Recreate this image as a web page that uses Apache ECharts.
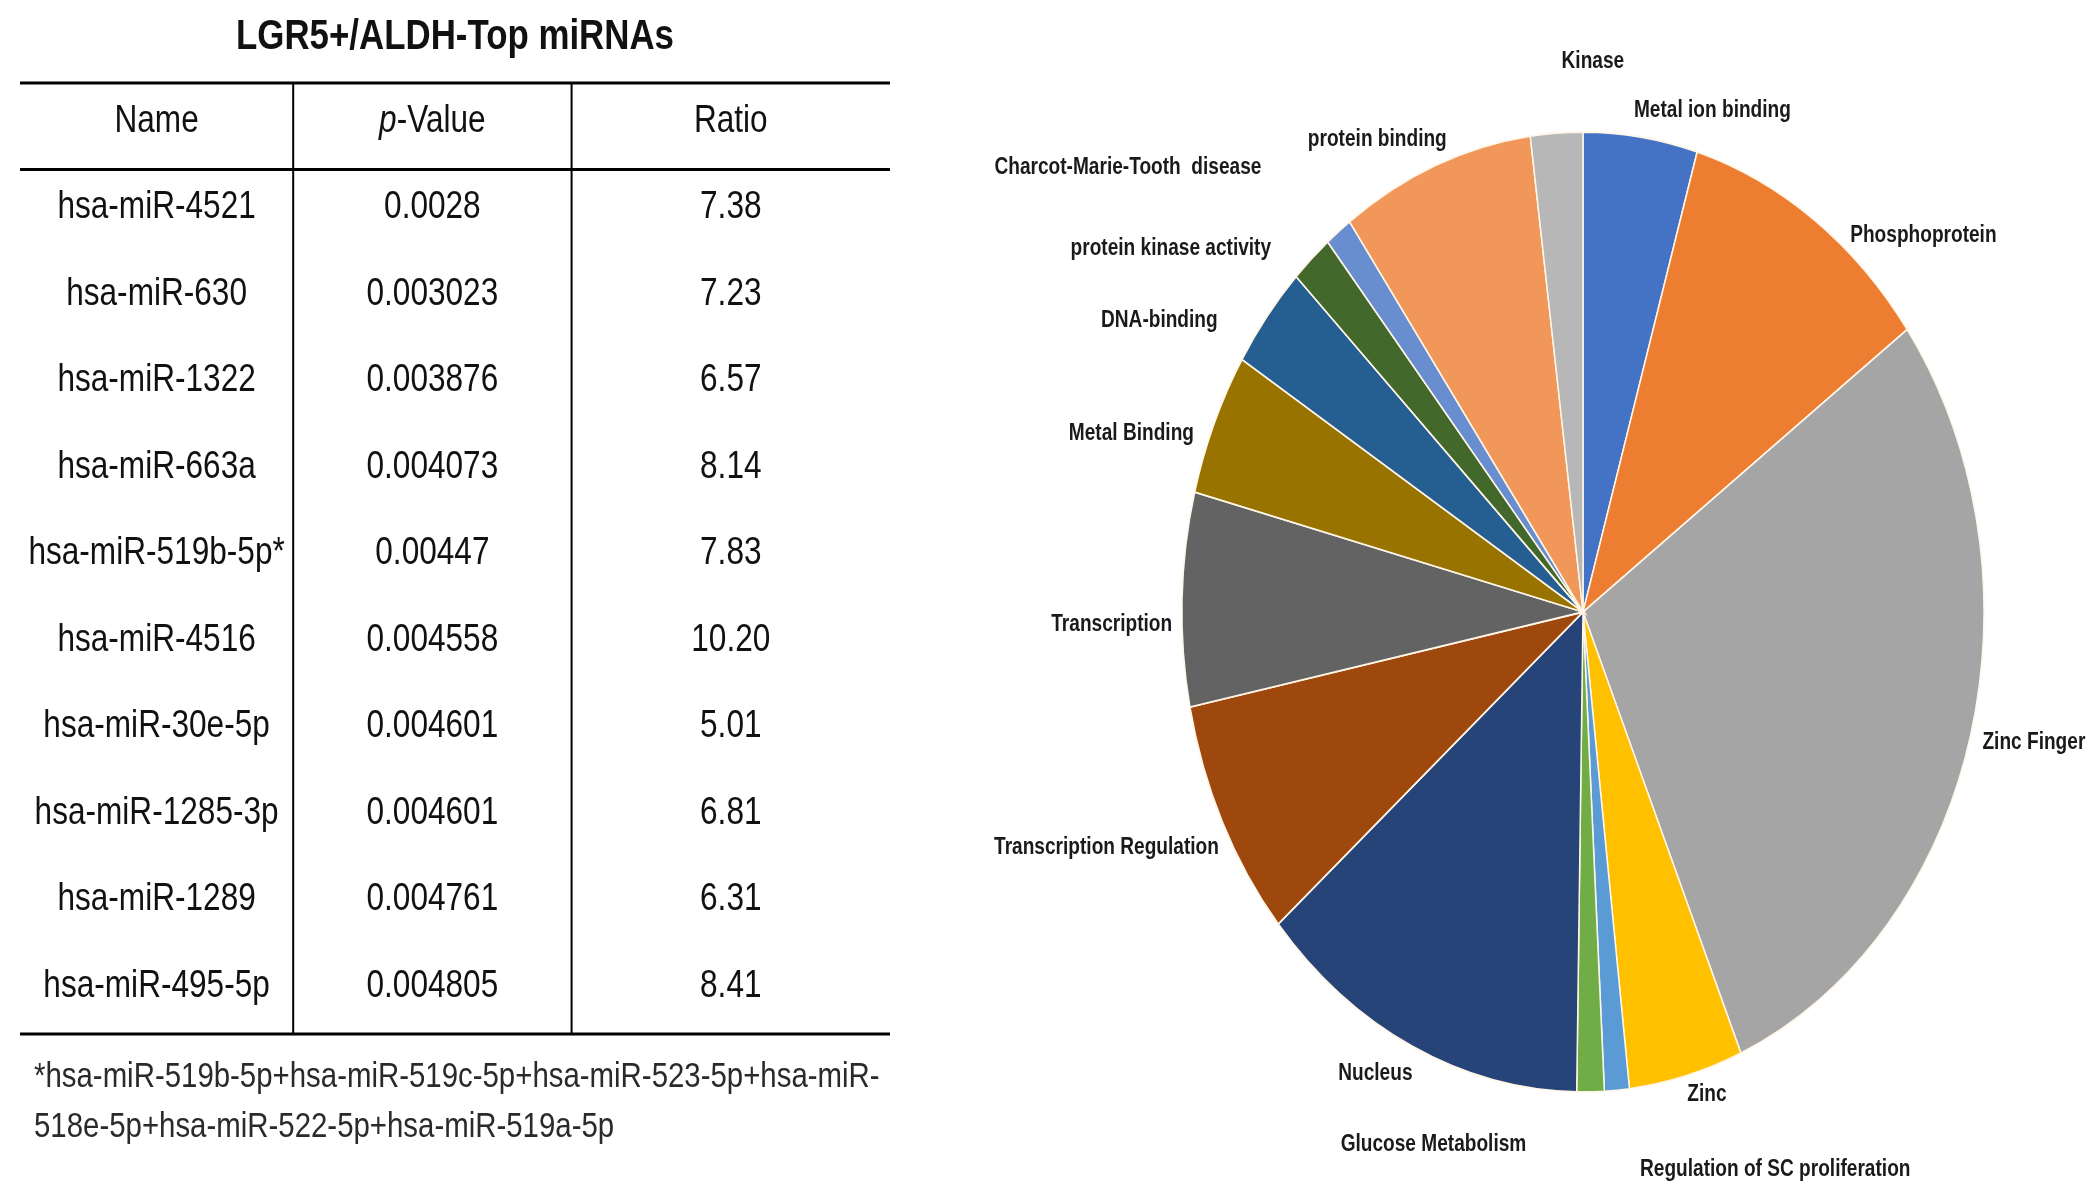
<!DOCTYPE html>
<html>
<head>
<meta charset="utf-8">
<script src="https://cdn.jsdelivr.net/npm/echarts@6/dist/echarts.min.js"></script>
<style>
html,body{margin:0;padding:0;background:#ffffff;}
#main{width:2100px;height:1200px;}
</style>
</head>
<body>
<div id="main"></div>
<script>
// ---------------- DATA ----------------
const tableTitle = 'LGR5+/ALDH-Top miRNAs';
const columnHeaders = ['Name', 'p-Value', 'Ratio'];
const mirnaNames = ['hsa-miR-4521', 'hsa-miR-630', 'hsa-miR-1322', 'hsa-miR-663a', 'hsa-miR-519b-5p*',
  'hsa-miR-4516', 'hsa-miR-30e-5p', 'hsa-miR-1285-3p', 'hsa-miR-1289', 'hsa-miR-495-5p'];
const pValues = [0.0028, 0.003023, 0.003876, 0.004073, 0.00447, 0.004558, 0.004601, 0.004601, 0.004761, 0.004805];
const ratios = [7.38, 7.23, 6.57, 8.14, 7.83, 10.20, 5.01, 6.81, 6.31, 8.41];
const footnoteLines = ['*hsa-miR-519b-5p+hsa-miR-519c-5p+hsa-miR-523-5p+hsa-miR-',
  '518e-5p+hsa-miR-522-5p+hsa-miR-519a-5p'];

const pieCategories = ['Metal ion binding', 'Phosphoprotein', 'Zinc Finger', 'Zinc',
  'Regulation of SC proliferation', 'Glucose Metabolism', 'Nucleus', 'Transcription Regulation',
  'Transcription', 'Metal Binding', 'DNA-binding', 'protein kinase activity',
  'Charcot-Marie-Tooth  disease', 'protein binding', 'Kinase'];
const pieValues = [4.6, 10.4, 28.6, 4.6, 1.0, 1.1, 13.5, 8.1, 7.2, 4.8, 3.5, 1.7, 1.1, 7.8, 2.1];

// ---------------- LAYOUT / STYLE ----------------
const FONT = '"Liberation Sans", Arial, sans-serif';
const PALETTE = ['#4472C4', '#ED7D31', '#A5A5A5', '#FFC000', '#5B9BD5', '#70AD47', '#264478', '#9E480E',
  '#636363', '#997300', '#255E91', '#43682B', '#698ED0', '#F1975A', '#B7B7B7'];
const TABLE = { left: 20, top: 83, width: 870, height: 951, colEdges: [0, 0.314, 0.634, 1],
  fontSize: 39, scaleX: 0.81, textDy: -5 };
const TITLE = { y: 37, fontSize: 42, scaleX: 0.83 };
const NOTE = { x: 34, y: 1052, fontSize: 35, lineHeight: 50, scaleX: 0.84 };
const PIE = { cx: 1583, cy: 612, rx: 401, ry: 480 };
const LBL = { size: 23, scaleX: 0.83, gap: 10, h: 24 };
// hand-tuned shifts of the outside labels (Excel "best fit" placement), in px
const LABEL_NUDGE = [[59, -5], [61, 34], [5, -2], [13, -2], [146, 57], [-159, 31], [-17, 7], [-6, 16],
  [0, 26], [-16, 19], [-54, 18], [-66, 6], [-123, -47], [-29, -6], [39, -49]];

// ---------------- DERIVED ----------------
const rowKeys = ['header'].concat(mirnaNames);
const cellText = (c, r) => {
  if (r === 0) return c === 1 ? '{i|p}-Value' : columnHeaders[c];
  const k = r - 1;
  if (c === 0) return mirnaNames[k];
  if (c === 1) return String(pValues[k]);
  return ratios[k].toFixed(2);
};
const cells = [];
rowKeys.forEach((_, r) => columnHeaders.forEach((_, c) => cells.push([c, r])));

const total = pieValues.reduce((a, b) => a + b, 0);
const cumAngles = [0];
pieValues.forEach((v, i) => cumAngles.push(cumAngles[i] + v / total * Math.PI * 2));

function layoutLabels() {
  const ctx = document.createElement('canvas').getContext('2d');
  ctx.font = 'bold ' + LBL.size + 'px ' + FONT;
  return pieCategories.map((name, i) => {
    const th = (cumAngles[i] + cumAngles[i + 1]) / 2;
    const s = Math.sin(th), c = Math.cos(th);
    const w = ctx.measureText(name).width * LBL.scaleX;
    const n = LABEL_NUDGE[i] || [0, 0];
    return {
      x: PIE.cx + (PIE.rx + LBL.gap) * s + s * w / 2 + n[0],
      y: PIE.cy - (PIE.ry + LBL.gap) * c - c * LBL.h / 2 + n[1]
    };
  });
}
const labelPos = layoutLabels();

// ---------------- CHART ----------------
const chart = echarts.init(document.getElementById('main'), null, { renderer: 'canvas' });

const option = {
  backgroundColor: '#ffffff',
  animation: false,
  graphic: [
    {
      type: 'text', x: TABLE.left + TABLE.width / 2, y: TITLE.y, scaleX: TITLE.scaleX,
      style: { text: tableTitle, fill: '#111', font: 'bold ' + TITLE.fontSize + 'px ' + FONT,
        align: 'center', verticalAlign: 'middle' }
    },
    {
      type: 'text', x: NOTE.x, y: NOTE.y, scaleX: NOTE.scaleX,
      style: { text: footnoteLines.join('\n'), fill: '#2a2a2a', font: NOTE.fontSize + 'px ' + FONT,
        lineHeight: NOTE.lineHeight, align: 'left', verticalAlign: 'top' }
    }
  ],
  grid: { left: TABLE.left, top: TABLE.top, width: TABLE.width, height: TABLE.height, show: false },
  xAxis: { type: 'value', min: 0, max: 1, show: false },
  yAxis: { type: 'category', inverse: true, data: rowKeys, show: false },
  series: [
    {
      type: 'custom', name: 'tableCells', coordinateSystem: 'cartesian2d', data: cells, silent: true,
      renderItem: function (params, api) {
        const c = api.value(0), r = api.value(1);
        const e = TABLE.colEdges;
        const p = api.coord([(e[c] + e[c + 1]) / 2, r]);
        return {
          type: 'text', x: p[0], y: p[1] + TABLE.textDy, scaleX: TABLE.scaleX,
          style: {
            text: cellText(c, r), fill: '#111', fontFamily: FONT, fontSize: TABLE.fontSize,
            align: 'center', verticalAlign: 'middle',
            rich: { i: { fontStyle: 'italic', fontFamily: FONT, fontSize: TABLE.fontSize, fill: '#111' } }
          }
        };
      }
    },
    {
      type: 'custom', name: 'tableRules', coordinateSystem: 'cartesian2d', data: [[0, 0]], silent: true,
      renderItem: function (params, api) {
        const band = api.size([0, 1])[1];
        const last = rowKeys.length - 1;
        const x0 = api.coord([0, 0])[0], x1 = api.coord([1, 0])[0];
        const yTop = api.coord([0, 0])[1] - band / 2;
        const yHead = api.coord([0, 1])[1] - band / 2;
        const yBot = api.coord([0, last])[1] + band / 2;
        const line = (xa, ya, xb, yb, w) => ({
          type: 'line', shape: { x1: xa, y1: ya, x2: xb, y2: yb },
          style: { stroke: '#000', lineWidth: w }
        });
        const children = [line(x0, yTop, x1, yTop, 3), line(x0, yHead, x1, yHead, 3), line(x0, yBot, x1, yBot, 3)];
        [1, 2].forEach(k => {
          const xv = api.coord([TABLE.colEdges[k], 0])[0];
          children.push(line(xv, yTop, xv, yBot, 2));
        });
        return { type: 'group', children: children };
      }
    },
    {
      type: 'custom', name: 'pie', coordinateSystem: 'none', silent: true,
      data: pieValues.map((v, i) => [i, v]),
      renderItem: function (params, api) {
        const i = params.dataIndex;
        return {
          type: 'sector',
          x: PIE.cx, y: PIE.cy, scaleX: 1, scaleY: PIE.ry / PIE.rx,
          shape: {
            cx: 0, cy: 0, r0: 0, r: PIE.rx,
            startAngle: cumAngles[i] - Math.PI / 2, endAngle: cumAngles[i + 1] - Math.PI / 2, clockwise: true
          },
          style: { fill: PALETTE[i % PALETTE.length], stroke: '#fff6e8', lineWidth: 1.5, strokeNoScale: true }
        };
      }
    },
    {
      type: 'custom', name: 'pieLabels', coordinateSystem: 'none', silent: true,
      data: pieCategories.map((n, i) => [i]),
      renderItem: function (params, api) {
        const i = params.dataIndex, p = labelPos[i];
        return {
          type: 'text', x: p.x, y: p.y, scaleX: LBL.scaleX,
          style: {
            text: pieCategories[i], fill: '#1a1a1a', fontFamily: FONT, fontWeight: 'bold', fontSize: LBL.size,
            align: 'center', verticalAlign: 'middle'
          }
        };
      }
    }
  ]
};
chart.setOption(option);
</script>
</body>
</html>
